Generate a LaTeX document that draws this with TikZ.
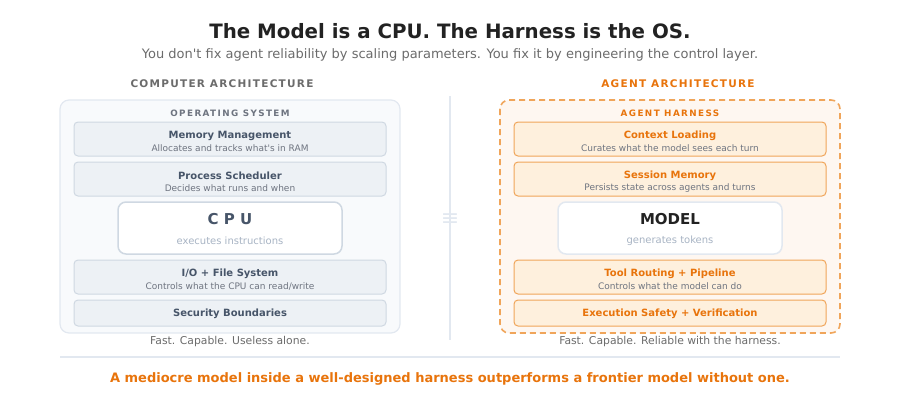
\documentclass[tikz,border=0pt]{standalone}
\usepackage{fontspec}
\setmainfont{DejaVu Sans}
\newfontfamily\spacedfont[LetterSpace=12]{DejaVu Sans}
\newfontfamily\spacedfontb[LetterSpace=16]{DejaVu Sans}
\newcommand\sq{\textquotesingle}
\definecolor{orng}{HTML}{E8740C}
\definecolor{orngline}{HTML}{F0A55A}
\definecolor{orngfill}{HTML}{FEF0DD}
\definecolor{orngbg}{HTML}{FEF7F1}
\definecolor{slate}{HTML}{475569}
\definecolor{slatefill}{HTML}{EDF1F5}
\definecolor{slateline}{HTML}{CFD8E2}
\definecolor{bgline}{HTML}{E2E8F0}
\definecolor{bgfill}{HTML}{F8FAFC}
\definecolor{txtgray}{HTML}{6B6B6B}
\definecolor{subgray}{HTML}{6E7480}
\definecolor{faint}{HTML}{A8B4C4}
\definecolor{dark}{HTML}{222222}
\begin{document}
\begin{tikzpicture}[x=1pt,y=-1pt,
  layerbox/.style={rounded corners=4pt,line width=1pt},
  oslayer/.style={layerbox,fill=slatefill,draw=slateline},
  hlayer/.style={layerbox,fill=orngfill,draw=orngline},
  ttl/.style={font=\bfseries\fontsize{10}{12}\selectfont},
  sub/.style={font=\fontsize{9}{10}\selectfont,text=subgray},
  foot/.style={font=\fontsize{10.8}{12}\selectfont,text=txtgray},
]
\useasboundingbox (0,0) rectangle (900,400);
% title
\node[font=\bfseries\fontsize{19.8}{24}\selectfont,text=dark] (title) at (450,31) {The Model is a CPU. The Harness is the OS.};
\node[font=\fontsize{13}{15}\selectfont,text=txtgray] (subtitle) at (450,55) {You don\sq t fix agent reliability by scaling parameters. You fix it by engineering the control layer.};
% column heads
\node[font=\spacedfont\bfseries\fontsize{10.5}{12}\selectfont,text=txtgray] (lhead) at (222,84) {COMPUTER ARCHITECTURE};
\node[font=\spacedfont\bfseries\fontsize{10.5}{12}\selectfont,text=orng] (rhead) at (678,84) {AGENT ARCHITECTURE};
% outer boxes
\draw[rounded corners=9pt,fill=bgfill,draw=bgline,line width=1.2pt] (60,100) rectangle (400,333);
\draw[rounded corners=9pt,fill=orngbg,draw=orngline,line width=1.6pt,dash pattern=on 6pt off 4pt] (500,100) rectangle (840,333);
\node[font=\spacedfontb\bfseries\fontsize{8.8}{10}\selectfont,text=subgray] (oslbl) at (230,113) {OPERATING SYSTEM};
\node[font=\spacedfontb\bfseries\fontsize{8.8}{10}\selectfont,text=orng] (hlbl) at (670,113) {AGENT HARNESS};
% left layers
\draw[oslayer] (74,122) rectangle (386,156);
\node[ttl,text=slate] (mm) at (230,135.5) {Memory Management};
\node[sub] (mms) at (230,148) {Allocates and tracks what\sq s in RAM};
\draw[oslayer] (74,162) rectangle (386,196);
\node[ttl,text=slate] (ps) at (230,175.5) {Process Scheduler};
\node[sub] (pss) at (230,188) {Decides what runs and when};
\draw[rounded corners=8pt,fill=white,draw=slateline,line width=1.5pt] (118,202) rectangle (342,254);
\node[font=\bfseries\fontsize{15}{18}\selectfont,text=slate] (cpu) at (230,219.5) {C P U};
\node[font=\fontsize{10}{11}\selectfont,text=faint] (cpus) at (230,241) {executes instructions};
\draw[oslayer] (74,260) rectangle (386,294);
\node[ttl,text=slate] (io) at (230,273.5) {I/O + File System};
\node[sub] (ios) at (230,286) {Controls what the CPU can read/write};
\draw[oslayer] (74,300) rectangle (386,326);
\node[ttl,text=slate] (sec) at (230,313.5) {Security Boundaries};
\node[foot] (lfoot) at (230,341.5) {Fast. Capable. Useless alone.};
% right layers
\draw[hlayer] (514,122) rectangle (826,156);
\node[ttl,text=orng] (cl) at (670,135.5) {Context Loading};
\node[sub] (cls) at (670,148) {Curates what the model sees each turn};
\draw[hlayer] (514,162) rectangle (826,196);
\node[ttl,text=orng] (sm) at (670,175.5) {Session Memory};
\node[sub] (sms) at (670,188) {Persists state across agents and turns};
\draw[rounded corners=8pt,fill=white,draw=bgline,line width=1.5pt] (558,202) rectangle (782,254);
\node[font=\bfseries\fontsize{15}{18}\selectfont,text=dark] (model) at (670,219.5) {MODEL};
\node[font=\fontsize{10}{11}\selectfont,text=faint] (models) at (670,241) {generates tokens};
\draw[hlayer] (514,260) rectangle (826,294);
\node[ttl,text=orng] (tr) at (670,273.5) {Tool Routing + Pipeline};
\node[sub] (trs) at (670,286) {Controls what the model can do};
\draw[hlayer] (514,300) rectangle (826,326);
\node[ttl,text=orng] (es) at (670,313.5) {Execution Safety + Verification};
\node[foot] (rfoot) at (670,341.5) {Fast. Capable. Reliable with the harness.};
% divider
\coordinate (dtop) at (450,96);
\coordinate (dbot) at (450,340);
\draw[bgline,line width=2pt] (dtop) -- (dbot);
\node[font=\fontsize{22}{24}\selectfont,text=bgline,inner sep=0pt] (eq) at (450,220) {≡};
% bottom
\coordinate (hl) at (60,357);
\coordinate (hr) at (840,357);
\draw[bgline,line width=1.2pt] (hl) -- (hr);
\node[font=\bfseries\fontsize{13}{16}\selectfont,text=orng] (bottom) at (450,379) {A mediocre model inside a well-designed harness outperforms a frontier model without one.};
\end{tikzpicture}
\end{document}
